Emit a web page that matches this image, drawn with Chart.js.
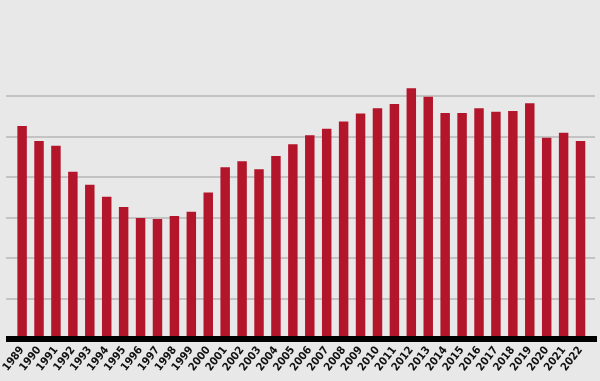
<!DOCTYPE html>
<html>
<head>
<meta charset="utf-8">
<script src="https://cdn.jsdelivr.net/npm/chart.js@4/dist/chart.umd.min.js"></script>
<style>
  html, body { margin: 0; padding: 0; background: #e8e8e8; }
  #wrap { width: 600px; height: 381px; position: relative; }
</style>
</head>
<body>
<div id="wrap"><canvas id="c" width="600" height="381"></canvas></div>
<script>
const years = ["1989","1990","1991","1992","1993","1994","1995","1996","1997","1998","1999","2000",
  "2001","2002","2003","2004","2005","2006","2007","2008","2009","2010","2011","2012","2013",
  "2014","2015","2016","2017","2018","2019","2020","2021","2022"];
const values = [52.6,48.9,47.7,41.3,38.1,35.1,32.6,29.9,29.6,30.4,31.4,36.2,
  42.4,43.9,41.9,45.2,48.1,50.3,51.9,53.7,55.7,57.0,58.0,61.9,59.8,
  55.8,55.8,57.0,56.1,56.3,58.2,49.7,50.9,48.9];
const gridValues = [10,20,30,40,50,60];

const linesPlugin = {
  id: 'refLines',
  beforeDatasetsDraw(chart) {
    const ctx = chart.ctx, y = chart.scales.y;
    ctx.save();
    ctx.strokeStyle = '#c3c3c3';
    ctx.lineWidth = 2;
    gridValues.forEach(v => {
      const py = Math.round(y.getPixelForValue(v));
      ctx.beginPath(); ctx.moveTo(6, py); ctx.lineTo(595, py); ctx.stroke();
    });
    ctx.restore();
  },
  afterDatasetsDraw(chart) {
    const ctx = chart.ctx, y = chart.scales.y;
    const py = y.getPixelForValue(0);
    ctx.save();
    ctx.fillStyle = '#000000';
    ctx.fillRect(6, py - 3, 591, 6);
    ctx.restore();
  }
};

new Chart(document.getElementById('c'), {
  type: 'bar',
  data: {
    labels: years,
    datasets: [{
      data: values,
      backgroundColor: '#b3162b',
      borderWidth: 0,
      barPercentage: 0.56,
      categoryPercentage: 1.0
    }]
  },
  options: {
    responsive: false,
    animation: false,
    devicePixelRatio: 1,
    layout: { padding: { left: 10, right: 11, top: 15, bottom: 0 } },
    plugins: { legend: { display: false }, tooltip: { enabled: false } },
    scales: {
      x: {
        grid: { display: false, drawTicks: false },
        border: { display: false },
        ticks: {
          color: '#111111',
          font: { family: "'Liberation Sans Narrow', 'DejaVu Sans Condensed', sans-serif", size: 11, weight: 'bold' },
          minRotation: 52, maxRotation: 52,
          padding: 5,
          autoSkip: false
        },
        afterFit(scale) { scale.height = 42; }
      },
      y: {
        min: 0, max: 80,
        grid: { display: false },
        border: { display: false },
        ticks: { display: false },
        afterFit(scale) { scale.width = 0; }
      }
    }
  },
  plugins: [linesPlugin]
});
</script>
</body>
</html>
